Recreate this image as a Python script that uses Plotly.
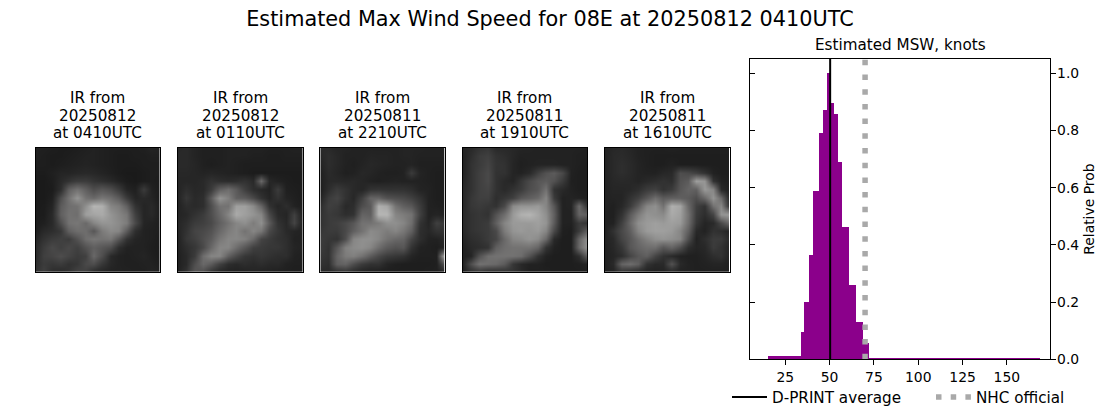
import plotly.graph_objects as go

W = 1100
H = 415  # a little taller than the window so the legend box fits without pushing the margins
FONT = "DejaVu Sans"

panel_titles = [
    ["IR from", "20250812", "at 0410UTC"],
    ["IR from", "20250812", "at 0110UTC"],
    ["IR from", "20250811", "at 2210UTC"],
    ["IR from", "20250811", "at 1910UTC"],
    ["IR from", "20250811", "at 1610UTC"],
]

# coarse brightness, top row first
ir_0410 = [
    [40, 40, 38, 36, 36, 38, 40, 42, 40, 38, 38, 38, 38, 40, 45, 42],
    [40, 38, 36, 36, 38, 40, 42, 42, 40, 38, 36, 36, 38, 38, 40, 40],
    [38, 38, 36, 38, 40, 42, 44, 42, 40, 38, 36, 36, 36, 38, 38, 38],
    [36, 36, 40, 45, 45, 48, 50, 48, 44, 40, 36, 34, 34, 36, 38, 38],
    [34, 34, 38, 50, 60, 70, 70, 62, 56, 50, 42, 36, 34, 36, 38, 36],
    [34, 34, 36, 55, 110, 130, 110, 90, 100, 90, 70, 45, 40, 70, 42, 36],
    [34, 34, 40, 90, 130, 165, 130, 120, 135, 125, 105, 70, 45, 50, 45, 36],
    [34, 36, 45, 105, 125, 130, 160, 195, 190, 150, 140, 110, 60, 45, 50, 38],
    [36, 36, 50, 110, 130, 125, 175, 180, 185, 165, 150, 135, 75, 45, 50, 38],
    [36, 40, 50, 90, 130, 135, 120, 150, 165, 165, 155, 140, 85, 45, 42, 38],
    [38, 50, 55, 65, 110, 125, 125, 100, 140, 155, 150, 105, 55, 42, 40, 38],
    [45, 60, 70, 75, 70, 95, 125, 135, 130, 135, 100, 60, 45, 42, 40, 36],
    [50, 70, 85, 75, 85, 75, 95, 110, 100, 90, 55, 42, 42, 42, 38, 36],
    [50, 75, 80, 90, 80, 70, 75, 120, 90, 50, 42, 40, 42, 45, 40, 36],
    [55, 70, 65, 70, 60, 65, 85, 90, 65, 48, 42, 40, 40, 42, 42, 38],
    [60, 75, 55, 50, 60, 80, 75, 50, 44, 42, 42, 42, 40, 40, 44, 42],
]
ir_0110 = [
    [48, 50, 44, 40, 40, 40, 42, 42, 42, 42, 42, 40, 40, 40, 42, 42],
    [50, 50, 44, 40, 40, 40, 42, 42, 42, 40, 40, 38, 38, 40, 40, 40],
    [50, 50, 46, 40, 38, 40, 42, 40, 38, 38, 38, 38, 38, 38, 38, 38],
    [48, 48, 46, 44, 46, 44, 42, 40, 38, 36, 36, 36, 36, 36, 36, 36],
    [46, 46, 46, 50, 60, 55, 52, 55, 60, 50, 120, 48, 42, 38, 36, 36],
    [44, 55, 48, 50, 70, 110, 125, 105, 75, 55, 48, 42, 70, 40, 38, 36],
    [44, 65, 50, 55, 105, 165, 145, 110, 105, 85, 60, 45, 60, 44, 40, 36],
    [42, 55, 50, 55, 90, 130, 130, 175, 175, 155, 115, 60, 45, 55, 42, 38],
    [44, 48, 60, 70, 90, 120, 150, 185, 175, 165, 150, 85, 50, 45, 75, 38],
    [46, 55, 70, 75, 85, 110, 130, 150, 160, 140, 160, 105, 60, 48, 80, 40],
    [45, 60, 80, 85, 95, 120, 140, 150, 130, 150, 135, 85, 65, 50, 45, 42],
    [42, 65, 75, 90, 105, 135, 150, 150, 145, 120, 80, 70, 60, 55, 42, 42],
    [42, 55, 65, 85, 120, 150, 150, 125, 100, 75, 70, 65, 65, 55, 45, 42],
    [40, 50, 70, 125, 150, 150, 110, 85, 65, 60, 65, 60, 55, 55, 42, 40],
    [40, 50, 90, 120, 105, 75, 55, 50, 55, 50, 55, 50, 50, 42, 40, 40],
    [40, 60, 100, 90, 60, 45, 42, 42, 42, 45, 42, 42, 40, 40, 38, 38],
]
ir_2210 = [
    [50, 50, 45, 45, 42, 42, 42, 42, 42, 42, 44, 44, 44, 42, 42, 42],
    [48, 55, 48, 42, 42, 42, 45, 44, 44, 42, 44, 44, 42, 42, 42, 42],
    [44, 55, 48, 42, 40, 44, 48, 46, 44, 42, 42, 44, 40, 40, 40, 40],
    [40, 52, 46, 40, 42, 48, 46, 42, 40, 40, 42, 70, 44, 40, 38, 38],
    [40, 50, 50, 48, 50, 46, 42, 40, 42, 44, 42, 42, 42, 40, 38, 38],
    [38, 55, 70, 60, 50, 46, 60, 62, 60, 60, 60, 55, 44, 42, 38, 38],
    [44, 70, 80, 60, 48, 75, 115, 115, 95, 90, 85, 75, 60, 42, 38, 38],
    [55, 75, 70, 50, 55, 90, 105, 190, 180, 130, 110, 100, 70, 42, 40, 38],
    [60, 70, 65, 55, 60, 115, 110, 195, 195, 150, 140, 130, 75, 42, 45, 42],
    [60, 70, 75, 85, 100, 130, 130, 140, 160, 160, 150, 125, 60, 45, 75, 65],
    [65, 70, 70, 85, 110, 130, 155, 150, 140, 150, 135, 110, 55, 48, 60, 60],
    [70, 65, 60, 90, 150, 160, 160, 150, 130, 120, 115, 80, 55, 42, 42, 50],
    [70, 60, 100, 145, 155, 160, 150, 125, 105, 95, 100, 60, 42, 40, 38, 45],
    [65, 60, 115, 140, 145, 130, 105, 85, 70, 65, 60, 45, 40, 40, 40, 195],
    [60, 55, 110, 115, 90, 70, 60, 60, 45, 40, 38, 38, 38, 38, 40, 100],
    [50, 50, 55, 60, 50, 42, 40, 38, 38, 38, 38, 38, 38, 40, 40, 45],
]
ir_1910 = [
    [45, 50, 60, 65, 50, 50, 48, 45, 44, 42, 42, 42, 42, 42, 42, 40],
    [42, 55, 70, 75, 60, 55, 48, 42, 42, 42, 42, 42, 42, 42, 40, 40],
    [42, 60, 70, 80, 62, 60, 46, 40, 42, 44, 44, 44, 42, 42, 40, 38],
    [42, 60, 75, 85, 60, 60, 45, 42, 50, 75, 95, 105, 85, 42, 38, 38],
    [45, 60, 75, 85, 60, 50, 45, 65, 85, 100, 105, 95, 70, 40, 38, 38],
    [48, 60, 75, 80, 60, 50, 60, 70, 90, 100, 130, 60, 50, 42, 38, 38],
    [48, 65, 75, 75, 55, 65, 75, 100, 110, 120, 150, 70, 42, 44, 42, 40],
    [48, 65, 70, 65, 60, 85, 155, 165, 165, 170, 150, 100, 42, 44, 120, 60],
    [50, 60, 65, 60, 95, 125, 170, 190, 195, 180, 160, 110, 42, 42, 115, 110],
    [50, 60, 65, 70, 110, 150, 170, 170, 170, 175, 165, 105, 42, 42, 70, 60],
    [48, 60, 65, 70, 85, 140, 165, 170, 165, 170, 150, 85, 40, 38, 70, 110],
    [44, 55, 60, 70, 80, 120, 150, 155, 165, 155, 120, 50, 38, 38, 115, 160],
    [40, 50, 55, 60, 110, 125, 130, 130, 130, 115, 60, 42, 38, 38, 120, 165],
    [40, 45, 95, 125, 130, 130, 130, 125, 95, 60, 42, 38, 38, 38, 55, 110],
    [42, 90, 130, 125, 120, 105, 65, 50, 42, 42, 38, 38, 38, 38, 40, 45],
    [40, 55, 60, 50, 50, 55, 60, 50, 40, 40, 40, 38, 38, 38, 38, 40],
]
ir_1610 = [
    [42, 48, 50, 46, 42, 40, 40, 40, 42, 40, 40, 40, 40, 40, 40, 40],
    [42, 50, 52, 48, 42, 40, 38, 38, 38, 38, 38, 38, 38, 38, 38, 38],
    [42, 50, 55, 50, 44, 40, 38, 38, 42, 38, 38, 38, 38, 38, 38, 38],
    [42, 50, 55, 50, 44, 42, 42, 48, 50, 90, 85, 75, 60, 42, 38, 38],
    [42, 48, 50, 48, 44, 50, 55, 60, 55, 95, 105, 175, 165, 60, 42, 38],
    [42, 46, 46, 48, 55, 70, 75, 60, 70, 100, 115, 110, 170, 150, 50, 40],
    [42, 44, 44, 60, 75, 100, 125, 105, 110, 110, 105, 90, 120, 165, 120, 44],
    [42, 40, 48, 70, 105, 150, 160, 130, 190, 180, 120, 75, 60, 130, 150, 55],
    [40, 40, 60, 105, 140, 165, 160, 155, 185, 175, 130, 70, 55, 80, 165, 170],
    [40, 42, 75, 120, 160, 170, 175, 170, 175, 170, 125, 65, 45, 50, 85, 120],
    [40, 60, 85, 110, 150, 170, 175, 175, 170, 150, 110, 50, 42, 60, 55, 45],
    [42, 50, 80, 100, 125, 145, 160, 165, 160, 150, 90, 42, 55, 70, 70, 50],
    [40, 48, 65, 100, 115, 125, 125, 100, 115, 90, 55, 45, 48, 70, 60, 45],
    [40, 45, 55, 80, 100, 110, 80, 60, 50, 42, 40, 40, 45, 55, 60, 42],
    [40, 50, 115, 125, 110, 60, 50, 50, 95, 50, 42, 40, 42, 45, 45, 40],
    [40, 44, 60, 50, 45, 42, 42, 44, 45, 42, 42, 40, 40, 40, 40, 40],
]
ir_images = [ir_0410, ir_0110, ir_2210, ir_1910, ir_1610]

# histogram of estimated MSW, uneven bins
bin_edges = [15.2, 33.9, 35.6, 38.4, 40.6, 44.0, 46.3, 48.5, 50.2, 52.5, 54.7, 57.0, 61.0, 64.9, 68.9, 72.2, 169.1]
rel_prob = [0.012, 0.095, 0.2, 0.365, 0.59, 0.79, 0.87, 1.0, 0.897, 0.858, 0.69, 0.463, 0.26, 0.132, 0.057, 0.004]
dprint_avg = 50.3
nhc_official = 70
x_ticks = [25, 50, 75, 100, 125, 150]
y_ticks = [0.0, 0.2, 0.4, 0.6, 0.8, 1.0]

panel_left = [35.5, 178, 320.3, 462.7, 605]
panel_size = 124.5
panel_top = 147.7
title_line_y = [98, 115.7, 133.4]

fig = go.Figure()
annotations = []
axes = {}

for i, img in enumerate(ir_images):
    n = i + 1
    fig.add_trace(go.Heatmap(z=img, colorscale="Gray", zmin=0, zmax=255, zsmooth="best",
                             showscale=False, hoverinfo="skip",
                             xaxis=f"x{n}", yaxis=f"y{n}"))
    left = panel_left[i]
    axes[f"xaxis{n}"] = dict(domain=[left / W, (left + panel_size) / W], anchor=f"y{n}", range=[0, 15],
                             showticklabels=False, ticks="", showgrid=False, zeroline=False,
                             showline=True, mirror=True, linecolor="black", linewidth=1)
    axes[f"yaxis{n}"] = dict(domain=[1 - (panel_top + panel_size) / H, 1 - panel_top / H], anchor=f"x{n}",
                             range=[15, 0], showticklabels=False, ticks="", showgrid=False,
                             zeroline=False, showline=True, mirror=True, linecolor="black", linewidth=1)
    # one annotation per line, plotly's own line spacing is wider than the reference
    for line, line_y in zip(panel_titles[i], title_line_y):
        annotations.append(dict(text=line, x=(left + panel_size / 2) / W, y=1 - line_y / H,
                                xref="paper", yref="paper", xanchor="center", yanchor="middle",
                                showarrow=False, font=dict(size=15.2, color="black", family=FONT)))

centers = [(a + b) / 2 for a, b in zip(bin_edges[:-1], bin_edges[1:])]
widths = [b - a for a, b in zip(bin_edges[:-1], bin_edges[1:])]
fig.add_trace(go.Bar(x=centers, y=rel_prob, width=widths, marker=dict(color="#8b008b", line=dict(width=0)),
                     showlegend=False, xaxis="x6", yaxis="y6"))
fig.add_trace(go.Scatter(x=[dprint_avg, dprint_avg], y=[0, 1.05], mode="lines", name="D-PRINT average",
                         line=dict(color="black", width=2), xaxis="x6", yaxis="y7", legend="legend"))
fig.add_trace(go.Scatter(x=[nhc_official, nhc_official], y=[0, 1.05], mode="lines", name="NHC official",
                         line=dict(color="#a9a9a9", width=5.5, dash="5.5px,9.2px"), xaxis="x6", yaxis="y7",
                         legend="legend2"))

hist_dom_x = [750.4 / W, 1050.3 / W]
hist_dom_y = [1 - 359.3 / H, 1 - 59 / H]
axes["xaxis6"] = dict(domain=hist_dom_x, anchor="y6", range=[5.3, 174.5], tickvals=x_ticks,
                      ticks="outside", ticklen=5, tickwidth=1, tickcolor="black", showgrid=False,
                      zeroline=False, showline=True, mirror=True, linecolor="black", linewidth=1,
                      automargin=False, tickfont=dict(size=13.9, color="black", family=FONT))
axes["yaxis6"] = dict(domain=hist_dom_y, anchor="x6", range=[0, 1.05], tickvals=y_ticks,
                      showticklabels=False, ticks="inside", ticklen=5, tickwidth=1, tickcolor="black",
                      showgrid=False, zeroline=False, showline=True, linecolor="black", linewidth=1,
                      automargin=False)
axes["yaxis7"] = dict(domain=hist_dom_y, anchor="x6", overlaying="y6", side="right", range=[0, 1.05],
                      tickvals=y_ticks, tickformat=".1f", ticks="outside", ticklen=5, tickwidth=1,
                      ticklabelstandoff=-2, tickcolor="black", showgrid=False, zeroline=False, showline=True,
                      linecolor="black", linewidth=1, automargin=False,
                      tickfont=dict(size=13.9, color="black", family=FONT),
                      title=dict(text="Relative Prob", font=dict(size=13.9, color="black", family=FONT), standoff=5))

annotations.append(dict(text="Estimated MSW, knots", x=900 / W, y=1 - 56 / H, xref="paper", yref="paper",
                        xanchor="center", yanchor="bottom", showarrow=False,
                        font=dict(size=15.2, color="black", family=FONT)))

legend_style = dict(orientation="h", y=1 - 397 / H, xanchor="left", yanchor="middle", itemwidth=35,
                    font=dict(size=15.2, color="black", family=FONT), bgcolor="rgba(0,0,0,0)")

fig.update_layout(
    width=W, height=H, margin=dict(l=0, r=0, t=0, b=0),
    paper_bgcolor="white", plot_bgcolor="white", bargap=0,
    font=dict(family=FONT, color="black"),
    title=dict(text="Estimated Max Wind Speed for 08E at 20250812 0410UTC", x=550 / W, xanchor="center",
               y=1 - 19 / H, yanchor="middle", font=dict(size=20.8, color="black", family=FONT)),
    legend=dict(x=727 / W, **legend_style),
    legend2=dict(x=931 / W, **legend_style),
    annotations=annotations,
    **axes,
)

# the page's default body margin would shift everything by 8px
fig.write_html("out.html", config={"displayModeBar": False}, post_script="document.body.style.margin = '0';")
